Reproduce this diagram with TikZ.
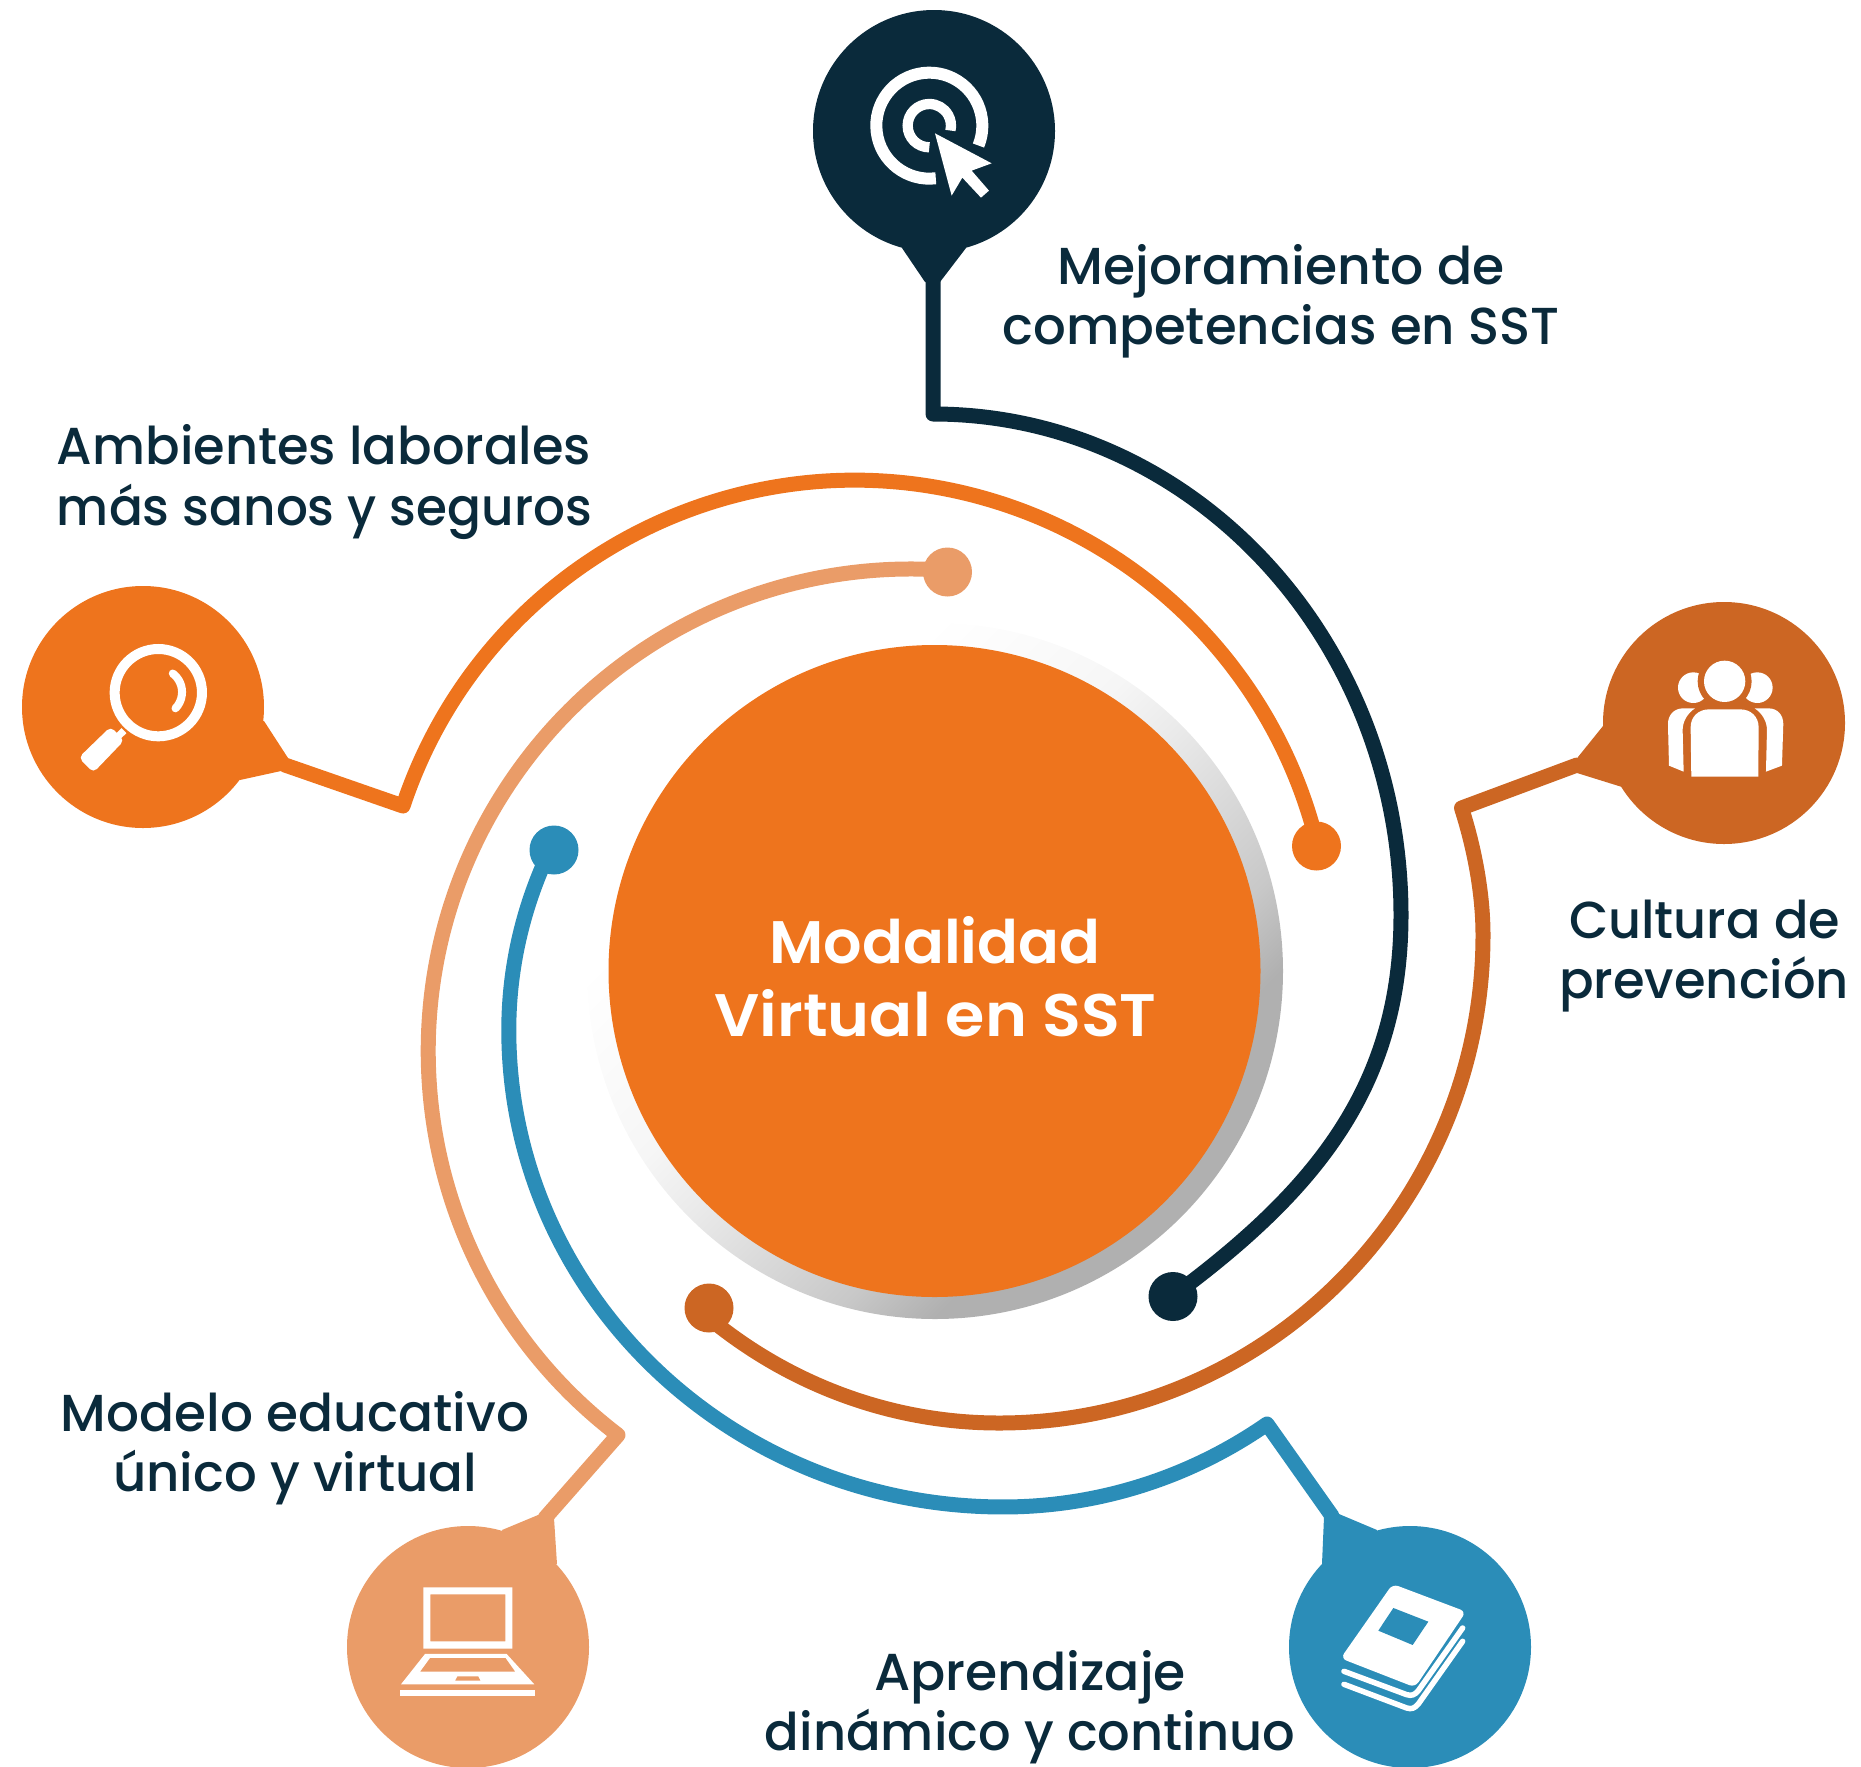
\documentclass[tikz,border=0pt]{standalone}
\usepackage{fontspec}
\usepackage{graphicx}
\newfontfamily\lblfont{Poppins Medium}
\newfontfamily\ctrfont{Poppins SemiBold}
\definecolor{cOrange}{HTML}{EE741D}
\definecolor{cLight}{HTML}{EA9C68}
\definecolor{cRust}{HTML}{CC6623}
\definecolor{cNavy}{HTML}{0A2A3B}
\definecolor{cBlue}{HTML}{2B8DB8}
\definecolor{gA}{HTML}{B0B0B0}
\definecolor{gB}{HTML}{C8C8C8}
\definecolor{gC}{HTML}{EAEAEA}
\definecolor{gD}{HTML}{F6F6F6}
\pgfdeclareverticalshading{ringgrad}{100bp}{color(0bp)=(gA); color(32.3bp)=(gA); color(37.6bp)=(gB); color(50bp)=(gC); color(55.3bp)=(gD); color(67.7bp)=(white); color(100bp)=(white)}
\newcommand{\lbl}[2]{\resizebox{#1pt}{\height}{\fontsize{52}{60}\lblfont #2}}
\newcommand{\ctr}[2]{\resizebox{#1pt}{\height}{\fontsize{60}{70}\ctrfont #2}}
\tikzset{
  bubble/.style={circle,minimum size=242pt,inner sep=0pt,fill=#1},
  dotnode/.style={circle,minimum size=49pt,inner sep=0pt,fill=#1},
  wire/.style={draw=#1,line width=15pt,line join=round,line cap=round},
  txt/.style={anchor=base,inner sep=0pt,text=cNavy},
  ctxt/.style={anchor=base,inner sep=0pt,text=white},
  icon/.style={x=0.3333pt,y=-0.3333pt}
}
\begin{document}
\begin{tikzpicture}[x=1pt,y=-1pt]
\useasboundingbox (0,0) rectangle (1861,1767);
% centre
\shade[shading=ringgrad,shading angle=45] (935,971) circle[radius=348];
\node[circle,minimum size=652pt,inner sep=0pt,fill=cOrange] (centre) at (934.5,971) {};
\node[ctxt] (c1) at (935,963) {\ctr{331}{Modalidad}};
\node[ctxt] (c2) at (935.5,1036) {\ctr{442}{Virtual en SST}};
% bubbles
\node[bubble=cNavy] (bNavy) at (934,131) {};
\node[bubble=cOrange] (bOrange) at (143,707) {};
\node[bubble=cRust] (bRust) at (1724,723) {};
\node[bubble=cLight] (bLight) at (468,1647) {};
\node[bubble=cBlue] (bBlue) at (1410,1647) {};
% tails
\fill[cNavy] (902,248) -- (925,282) -- (940,282) -- (966,248) -- cycle;
\fill[cOrange] (264,721) -- (288,758) -- (281,771) -- (240,780) -- (200,740) -- cycle;
\fill[cRust] (1603,726) -- (1578,757) -- (1577,773) -- (1622,787) -- (1660,740) -- cycle;
\fill[cLight] (502,1530) -- (538,1515) -- (554,1518) -- (557,1564) -- (520,1580) -- cycle;
\fill[cBlue] (1377,1530) -- (1339,1514) -- (1324,1517) -- (1322,1564) -- (1360,1580) -- cycle;
% dots and corners
\node[dotnode=cNavy] (dNavy) at (1173,1296.5) {};
\node[dotnode=cOrange] (dOrange) at (1316.5,846) {};
\node[dotnode=cLight] (dLight) at (947.5,572) {};
\node[dotnode=cBlue] (dBlue) at (554,850) {};
\node[dotnode=cRust] (dRust) at (709,1308) {};
\coordinate (kNavy) at (933,414);
\coordinate (kOrange) at (403,806);
\coordinate (kRust) at (1461.5,808);
\coordinate (kLight) at (618,1435);
\coordinate (kBlue) at (1267,1424);
\coordinate (sNavy) at (933,270);
\coordinate (sOrange) at (285,765);
\coordinate (sRust) at (1577,765);
\coordinate (sLight) at (545,1518);
\coordinate (sBlue) at (1332,1516);
% connectors
\draw[wire=cNavy] (sNavy) -- (kNavy)
  arc[start angle=270,end angle=360,x radius=468,y radius=501]
  .. controls (1401,1080) and (1322,1182) .. (1190,1283) -- (dNavy.center);
\draw[wire=cOrange] (sOrange) -- (kOrange) arc[start angle=198.4,end angle=346.4,radius=476] -- (dOrange.center);
\draw[wire=cRust] (sRust) -- (kRust)
  .. controls (1475,850) and (1483,895) .. (1483,935)
  arc[start angle=0,end angle=90,x radius=484,y radius=488]
  arc[start angle=90,end angle=127,x radius=468,y radius=488] -- (dRust.center);
\draw[wire=cLight] (sLight) -- (kLight) arc[start angle=127.35,end angle=274.4,radius=482.5] -- (dLight.center);
\draw[wire=cBlue] (sBlue) -- (kBlue)
  arc[start angle=55.7,end angle=90,x radius=468,y radius=477]
  arc[start angle=90,end angle=180,x radius=494.5,y radius=477]
  arc[start angle=180,end angle=202,x radius=494.5,y radius=450] -- (dBlue.center);
% labels
\node[txt] (t1a) at (1281,284) {\lbl{447}{Mejoramiento de}};
\node[txt] (t1b) at (1281,344) {\lbl{557}{competencias en SST}};
\node[txt] (t2a) at (324,464) {\lbl{534}{Ambientes laborales}};
\node[txt] (t2b) at (324.5,525) {\lbl{535}{más sanos y seguros}};
\node[txt] (t3a) at (1704.5,938) {\lbl{271}{Cultura de}};
\node[txt] (t3b) at (1704,998) {\lbl{290}{prevención}};
\node[txt] (t4a) at (295,1431) {\lbl{468}{Modelo educativo}};
\node[txt] (t4b) at (295,1491) {\lbl{364}{único y virtual}};
\node[txt] (t5a) at (1030,1690) {\lbl{312}{Aprendizaje}};
\node[txt] (t5b) at (1030,1750) {\lbl{530}{dinámico y continuo}};
% target icon
\begin{scope}[shift={(800,0)},icon]
\draw[white,line width=12pt] (388,377) ++(83:159) arc[start angle=83,end angle=382,radius=159];
\draw[white,line width=10.3pt] (388,377) ++(90:65) arc[start angle=90,end angle=373,radius=65];
\fill[white] (405,400) -- (575,490) -- (515,512) -- (567,572) -- (543,593) -- (487,533) -- (455,587) -- cycle;
\end{scope}
% magnifier icon
\begin{scope}[shift={(0,570)},icon]
\draw[white,line width=10pt] (475,368) circle[radius=131];
\draw[white,line width=8pt,line cap=round] (475,368) ++(-53:72) arc[start angle=-53,end angle=44,radius=70];
\draw[white,line width=7pt] (372,482) -- (345,508);
\fill[white,rounded corners=5pt] (332,470) -- (373,511) -- (280,608) -- (236,563) -- cycle;
\end{scope}
% people icon
\begin{scope}[shift={(1450,590)},icon]
\fill[white] (730,293) circle[radius=46];
\fill[white] (922,293) circle[radius=46];
\fill[cRust] (824,274) circle[radius=81];
\fill[white] (824,274) circle[radius=62];
\fill[white] (724,560) -- (722,412) .. controls (722,380) and (745,358) .. (778,358) -- (870,358) .. controls (903,358) and (926,380) .. (926,412) -- (925,560) -- cycle;
\fill[white] (657,527) -- (701,545) -- (698,420) .. controls (698,395) and (712,370) .. (735,355) -- (700,355) .. controls (672,355) and (654,375) .. (654,402) -- cycle;
\fill[white] (996,527) -- (948,545) -- (951,420) .. controls (951,395) and (937,370) .. (914,355) -- (955,355) .. controls (983,355) and (1000,375) .. (1000,402) -- cycle;
\end{scope}
% laptop icon
\begin{scope}[shift={(330,1420)},icon]
\fill[white,even odd rule] (280,502) rectangle (547,686) (301,523) rectangle (526,664);
\fill[white,even odd rule] (285,702) -- (530,702) -- (613,793) -- (213,793) -- cycle
  (300,714) -- (527,714) -- (556,755) -- (270,755) -- cycle
  (382,769) -- (445,769) -- (452,782) -- (375,782) -- cycle;
\fill[white] (210,810) rectangle (615,828);
\end{scope}
% book icon
\begin{scope}[shift={(1250,1400)},icon]
\fill[white,rounded corners=6pt] (428,552) -- (648,635) -- (495,862) -- (272,775) -- cycle;
\fill[cBlue] (430,624) -- (535,665) -- (488,735) -- (385,692) -- cycle;
\draw[white,line width=5.5pt,line cap=round,line join=round] (282,814) -- (470,884) .. controls (485,889) and (495,884) .. (505,872) -- (638,684);
\draw[white,line width=5.5pt,line cap=round,line join=round] (282,853) -- (470,924) .. controls (485,929) and (495,924) .. (505,912) -- (638,724);
\end{scope}
\end{tikzpicture}
\end{document}
